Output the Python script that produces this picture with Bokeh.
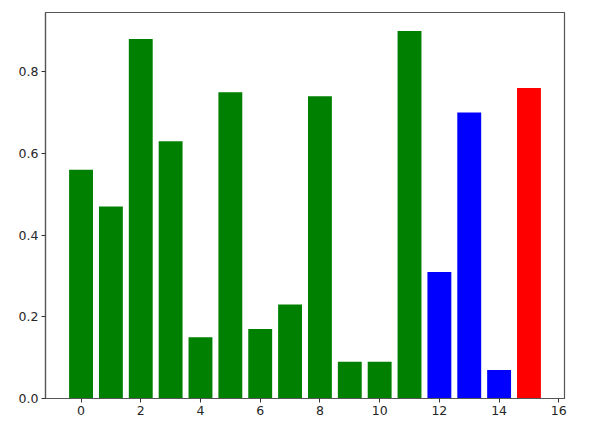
from bokeh.plotting import figure
from bokeh.models import ColumnDataSource, FixedTicker, Range1d
from bokeh.embed import file_html
from bokeh.resources import INLINE

positions = list(range(16))
values = [0.56, 0.47, 0.88, 0.63, 0.15, 0.75, 0.17, 0.23, 0.74, 0.09, 0.09, 0.90, 0.31, 0.70, 0.07, 0.76]
colors = ["green"] * 12 + ["blue"] * 3 + ["red"]
x_ticks = [0, 2, 4, 6, 8, 10, 12, 14, 16]
y_ticks = [0.0, 0.2, 0.4, 0.6, 0.8]
y_tick_labels = ["0.0", "0.2", "0.4", "0.6", "0.8"]

color_map = {"green": "#008000", "blue": "#0000ff", "red": "#ff0000"}
src = ColumnDataSource(dict(x=positions, top=values, color=[color_map[c] for c in colors]))

p = figure(width=577, height=420, output_backend="svg", toolbar_location=None,
           x_range=Range1d(-1.19, 16.19), y_range=Range1d(0, 0.945),
           min_border_left=45, min_border_top=12, min_border_right=13, min_border_bottom=22)
p.vbar(x="x", top="top", width=0.8, bottom=0, fill_color="color", line_color=None, source=src)

p.xgrid.visible = False
p.ygrid.visible = False
p.outline_line_color = "#555555"
p.outline_line_width = 1.2
p.background_fill_color = "white"
p.border_fill_color = "white"

p.xaxis.ticker = FixedTicker(ticks=x_ticks)
p.yaxis.ticker = FixedTicker(ticks=y_ticks)
p.yaxis.major_label_overrides = {t: l for t, l in zip(y_ticks, y_tick_labels)}
p.xaxis.major_label_overrides = {t: str(t) for t in x_ticks}
for ax in (p.xaxis, p.yaxis):
    ax.axis_line_color = "#555555"
    ax.axis_line_width = 1.2
    ax.major_tick_line_color = "#333333"
    ax.major_tick_in = 0
    ax.major_tick_out = 4
    ax.minor_tick_line_color = None
    ax.major_label_text_font = "DejaVu Sans"
    ax.major_label_text_font_size = "12.5px"
    ax.major_label_text_color = "#262626"
    ax.major_label_standoff = 3

open("out.html", "w").write(file_html(p, INLINE))
